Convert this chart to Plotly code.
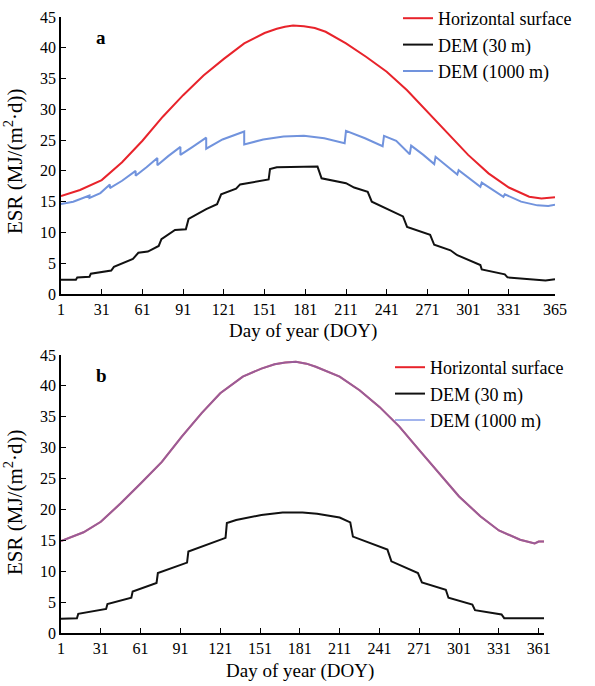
import plotly.graph_objects as go

# ---------------- Panel a data ----------------
a_h_doy = [1, 15, 31, 46, 61, 76, 91, 106, 121, 136, 151, 160, 166, 172, 180, 188, 196, 211, 226, 241, 256, 271, 286, 301, 316, 331, 346, 355, 365]
a_h_val = [15.9, 16.9, 18.5, 21.4, 24.9, 28.8, 32.3, 35.5, 38.2, 40.7, 42.4, 43.1, 43.4, 43.6, 43.5, 43.2, 42.6, 40.7, 38.5, 36.1, 33.1, 29.6, 26.1, 22.6, 19.6, 17.3, 15.8, 15.5, 15.7]

a_d30_doy = [1, 12, 13, 22, 23, 32, 38, 40, 54, 58, 65, 73, 75, 85, 93, 95, 108, 116, 119, 130, 133, 154, 155, 160, 190, 193, 211, 217, 227, 230, 241, 253, 256, 273, 276, 288, 293, 310, 311, 323, 328, 330, 348, 358, 365]
a_d30_val = [2.3, 2.3, 2.7, 2.8, 3.3, 3.6, 3.8, 4.4, 5.7, 6.7, 6.9, 7.8, 8.9, 10.4, 10.5, 12.2, 13.8, 14.6, 16.2, 17.1, 17.8, 18.6, 20.3, 20.6, 20.7, 18.8, 18.0, 17.3, 16.6, 15.0, 13.9, 12.6, 10.9, 9.6, 8.0, 7.1, 6.3, 4.7, 4.0, 3.4, 3.2, 2.7, 2.4, 2.2, 2.4]

a_d1000_doy = [1, 10, 22, 22, 30, 37, 37, 46, 56, 56, 64, 72, 72, 80, 89, 89, 98, 108, 108, 120, 136, 136, 150, 165, 180, 195, 210, 211, 225, 238, 239, 248, 258, 259, 268, 276, 277, 285, 293, 294, 302, 310, 311, 319, 327, 328, 340, 352, 360, 365]
a_d1000_val = [14.6, 15.0, 16.0, 15.6, 16.4, 17.8, 17.2, 18.4, 20.0, 19.2, 20.6, 22.1, 20.9, 22.4, 23.9, 22.6, 23.9, 25.4, 23.6, 25.1, 26.4, 24.3, 25.1, 25.6, 25.7, 25.3, 24.5, 26.5, 25.3, 24.0, 25.7, 24.9, 22.7, 24.1, 22.6, 21.1, 22.3, 20.8, 19.4, 20.1, 18.8, 17.4, 18.1, 16.9, 15.8, 16.2, 15.0, 14.4, 14.3, 14.5]

a_ticks = [1, 31, 61, 91, 121, 151, 181, 211, 241, 271, 301, 331, 365]

# ---------------- Panel b data ----------------
b_h_doy = [1, 18, 31, 46, 61, 77, 92, 107, 121, 138, 152, 162, 170, 178, 186, 193, 211, 226, 241, 256, 271, 286, 301, 317, 331, 347, 355, 358, 361, 365]
b_h_val = [14.9, 16.3, 18.0, 21.0, 24.2, 27.7, 31.8, 35.6, 38.8, 41.5, 42.8, 43.5, 43.8, 43.9, 43.6, 43.1, 41.5, 39.3, 36.6, 33.4, 29.6, 25.9, 22.1, 18.9, 16.6, 15.1, 14.6, 14.5, 14.8, 14.8]
b_d1000_val = list(b_h_val)

b_d30_doy = [1, 13, 14, 31, 35, 36, 54, 55, 73, 74, 96, 97, 125, 126, 133, 152, 168, 183, 194, 211, 219, 221, 247, 250, 270, 273, 291, 293, 311, 313, 333, 335, 365]
b_d30_val = [2.3, 2.4, 3.1, 3.7, 3.9, 4.7, 5.7, 6.7, 8.1, 9.7, 11.4, 13.2, 15.4, 17.8, 18.3, 19.1, 19.5, 19.5, 19.3, 18.7, 17.9, 15.6, 13.5, 11.6, 9.7, 8.2, 7.0, 5.7, 4.6, 3.7, 3.0, 2.4, 2.4]

b_ticks = [1, 31, 61, 91, 121, 151, 181, 211, 241, 271, 301, 331, 361]

# ---------------- style ----------------
W, H = 595, 686
RED = "#e8232b"
BLACK = "#111111"
BLUE = "#7193dd"
FONT = "Liberation Serif"

fig = go.Figure()

# panel a
fig.add_trace(go.Scatter(x=a_h_doy, y=a_h_val, mode="lines", name="Horizontal surface",
                         line=dict(color=RED, width=2), xaxis="x", yaxis="y", legend="legend", legendrank=1))
fig.add_trace(go.Scatter(x=a_d30_doy, y=a_d30_val, mode="lines", name="DEM (30 m)",
                         line=dict(color=BLACK, width=2), xaxis="x", yaxis="y", legend="legend", legendrank=2))
fig.add_trace(go.Scatter(x=a_d1000_doy, y=a_d1000_val, mode="lines", name="DEM (1000 m)",
                         line=dict(color=BLUE, width=2), xaxis="x", yaxis="y", legend="legend", legendrank=3))

# panel b
fig.add_trace(go.Scatter(x=b_h_doy, y=b_h_val, mode="lines", name="Horizontal surface",
                         line=dict(color=RED, width=2), xaxis="x2", yaxis="y2", legend="legend2", legendrank=1))
fig.add_trace(go.Scatter(x=b_d30_doy, y=b_d30_val, mode="lines", name="DEM (30 m)",
                         line=dict(color=BLACK, width=2), xaxis="x2", yaxis="y2", legend="legend2", legendrank=2))
fig.add_trace(go.Scatter(x=b_h_doy, y=b_d1000_val, mode="lines", name="DEM (1000 m)",
                         line=dict(color="rgba(100,130,225,0.6)", width=2), xaxis="x2", yaxis="y2",
                         legend="legend2", legendrank=3))


def px_x(p):
    return p / W


def px_y(p):
    return 1 - p / H


axis_common = dict(showgrid=False, zeroline=False, showline=True, linecolor="black", linewidth=1.5,
                   ticks="inside", ticklen=5, tickwidth=1.2, tickcolor="black", automargin=False,
                   tickfont=dict(family=FONT, size=16, color="black"))

fig.update_layout(
    width=W, height=H,
    margin=dict(l=0, r=0, t=0, b=0, autoexpand=False),
    paper_bgcolor="white", plot_bgcolor="white",
    font=dict(family=FONT, color="black"),
    xaxis=dict(domain=[px_x(61), px_x(555)], range=[1, 365], tickvals=a_ticks, anchor="y", **axis_common),
    yaxis=dict(domain=[px_y(294), px_y(17)], range=[0, 45], dtick=5, tick0=0, anchor="x", **axis_common),
    xaxis2=dict(domain=[px_x(61), px_x(544)], range=[1, 365], tickvals=b_ticks, anchor="y2", **axis_common),
    yaxis2=dict(domain=[px_y(633), px_y(355)], range=[0, 45], dtick=5, tick0=0, anchor="x2", **axis_common),
    legend=dict(x=px_x(398), xanchor="left", y=px_y(0), yanchor="top", bgcolor="rgba(0,0,0,0)",
                font=dict(family=FONT, size=18, color="black"), traceorder="normal", tracegroupgap=0),
    legend2=dict(x=px_x(390), xanchor="left", y=px_y(349), yanchor="top", bgcolor="rgba(0,0,0,0)",
                 font=dict(family=FONT, size=18, color="black"), traceorder="normal", tracegroupgap=0),
)

ann = []
ytitle = "ESR (MJ/(m<sup>2</sup>·d))"


def add_text(text, x, y, size, angle=0):
    ann.append(dict(text=text, x=px_x(x), y=px_y(y), xref="paper", yref="paper", textangle=angle,
                    xanchor="center", yanchor="middle", showarrow=False,
                    font=dict(family=FONT, size=size, color="black")))


add_text(ytitle, 13, 161, 21, -90)
add_text(ytitle, 13, 502, 21, -90)
add_text("Day of year (DOY)", 303, 331, 19)
add_text("Day of year (DOY)", 300, 671, 19)
add_text("<b>a</b>", 101, 37, 19)
add_text("<b>b</b>", 101, 375, 19)
fig.update_layout(annotations=ann)

fig.write_html("out.html")
